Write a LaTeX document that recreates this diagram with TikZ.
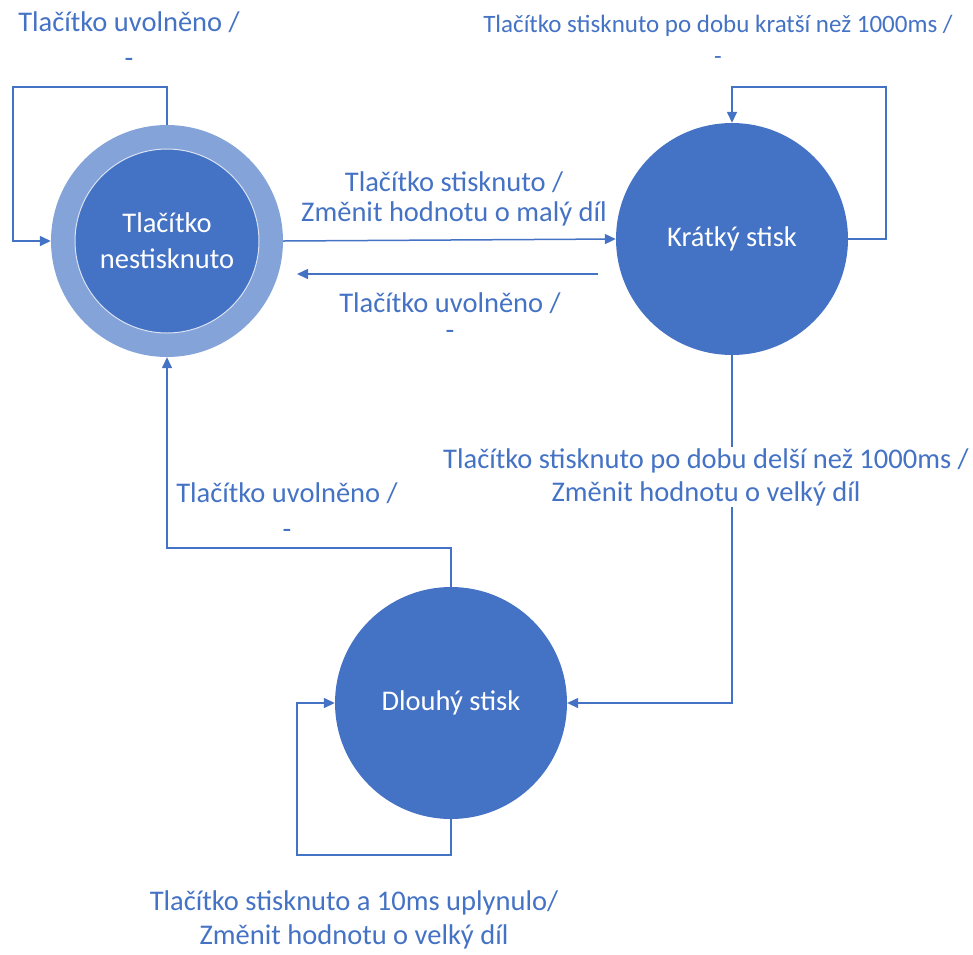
\documentclass[tikz,border=0pt]{standalone}
\usepackage{fontspec}
\setmainfont{Carlito}
\usetikzlibrary{arrows.meta}
\definecolor{stateblue}{RGB}{68,114,196}
\definecolor{ringblue}{RGB}{132,163,217}
\definecolor{labelblue}{RGB}{68,114,196}
\begin{document}
\begin{tikzpicture}[x=1pt,y=-1pt,
  state/.style={circle, fill=stateblue, text=white, minimum size=232pt, inner sep=0pt, align=center, font=\fontsize{28.5}{36}\selectfont},
  conn/.style={draw=stateblue, line width=1.5pt, -{Triangle[length=11pt,width=10pt]}},
  lbl/.style={text=labelblue, align=center, font=\fontsize{28.5}{36}\selectfont, inner sep=1pt}]
\useasboundingbox (0,0) rectangle (973,954);
% states
\node[circle, fill=ringblue, minimum size=232pt, inner sep=0pt] (A) at (167,241) {};
\node[state, minimum size=184pt, draw=white!80!stateblue, line width=1pt] (Ai) at (167,241) {Tlačítko\\nestisknuto};
\node[state] (B) at (732,239) {Krátký stisk};
\node[state] (C) at (451,703) {Dlouhý stisk};
% helper coordinates
\coordinate (a1) at (167,87);
\coordinate (a2) at (13,87);
\coordinate (a3) at (13,241);
\coordinate (b1) at (886,239);
\coordinate (b2) at (886,87);
\coordinate (b3) at (732,87);
\coordinate (ba1) at (598,274);
\coordinate (ba2) at (297,274);
\coordinate (ca1) at (451,548);
\coordinate (c1) at (451,855);
\coordinate (c2) at (297,703);
% connectors
\draw[conn] (A.north) -- (a1) -- (a2) -- (a3) -- (A.west);
\draw[conn] (A.east) -- (B.west);
\draw[conn] (ba1) -- (ba2);
\draw[conn] (B.east) -- (b1) -- (b2) -- (b3) -- (B.north);
\draw[conn] (B.south) |- (C.east);
\draw[conn] (C.north) -- (ca1) -| (A.south);
\draw[conn] (C.south) -- (c1) -| (c2) -- (C.west);
% labels
\node[lbl] (lA) at (129,40) {Tlačítko uvolněno /\\-};
\node[lbl, font=\fontsize{28.5}{30}\selectfont] (lAB) at (454,199) {Tlačítko stisknuto /\\Změnit hodnotu o malý díl};
\node[lbl, font=\fontsize{28.5}{27}\selectfont] (lBA) at (450,316) {Tlačítko uvolněno /\\-};
\node[lbl, font=\fontsize{25}{32}\selectfont] (lB) at (718,40) {Tlačítko stisknuto po dobu kratší než 1000ms /\\-};
\node[lbl, fill=white, font=\fontsize{28.5}{33}\selectfont] (lBC) at (706,477) {Tlačítko stisknuto po dobu delší než 1000ms /\\Změnit hodnotu o velký díl};
\node[lbl] (lCA) at (287,511) {Tlačítko uvolněno /\\-};
\node[lbl, font=\fontsize{28.5}{34}\selectfont] (lC) at (354,920) {Tlačítko stisknuto a 10ms uplynulo/\\Změnit hodnotu o velký díl};
\end{tikzpicture}
\end{document}
